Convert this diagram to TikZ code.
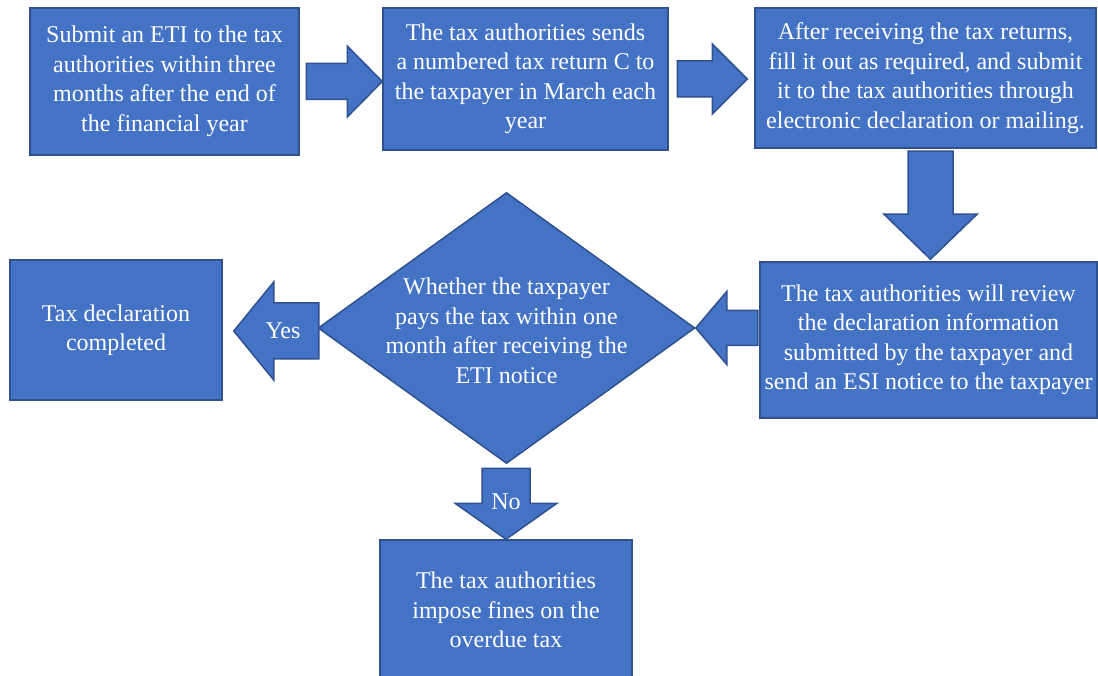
\documentclass[tikz,border=0pt]{standalone}
\usepackage{fontspec}
\setmainfont{Liberation Serif}
\usepackage{xcolor}
\usepackage{tikz}
\usetikzlibrary{shapes.geometric,calc}

\definecolor{boxblue}{HTML}{4472C4}
\definecolor{edgeblue}{HTML}{2F528F}

\tikzset{
  stepbox/.style={draw=edgeblue, fill=boxblue, line width=1.5pt, text=white,
    align=center, inner sep=0pt, font=\fontsize{24}{29.5}\selectfont},
  decision/.style={draw=edgeblue, fill=boxblue, line width=1.5pt, diamond,
    inner sep=0pt},
  arrowfill/.style={draw=edgeblue, fill=boxblue, line width=1.5pt, line join=miter},
  arrowtext/.style={text=white, font=\fontsize{24}{29.5}\selectfont}
}

% tip, angle, length, shaft half, head half, head length
\newcommand{\bigarrow}[6]{%
  \draw[arrowfill, shift={#1}, rotate=#2]
    (0,0) -- (-#6,#5) -- (-#6,#4) -- (-#3,#4) -- (-#3,-#4) -- (-#6,-#4) -- (-#6,-#5) -- cycle;}

\begin{document}
\begin{tikzpicture}[x=1pt, y=-1pt]
\useasboundingbox (0,0) rectangle (1098,676);

\node[stepbox, minimum width=269pt, minimum height=147pt] (submit) at (164.5,81.5)
  {Submit an ETI to the tax\\authorities within three\\months after the end of\\the financial year};
\node[stepbox, minimum width=285pt, minimum height=142pt] (sends) at (525.5,79)
  {The tax authorities sends\\a numbered tax return C to\\the taxpayer in March each\\year};
\node[stepbox, minimum width=341pt, minimum height=140pt] (fill) at (925.5,78)
  {After receiving the tax returns,\\fill it out as required, and submit\\it to the tax authorities through\\electronic declaration or mailing.};
\node[stepbox, minimum width=337pt, minimum height=156pt] (review) at (928.5,340)
  {The tax authorities will review\\the declaration information\\submitted by the taxpayer and\\send an ESI notice to the taxpayer};
\node[decision, minimum width=377pt, minimum height=271pt,
  label={[arrowtext, align=center, yshift=-3pt]center:Whether the taxpayer\\pays the tax within one\\month after receiving the\\ETI notice}] (check) at (506.5,328) {};
\node[stepbox, minimum width=212pt, minimum height=140pt] (done) at (116,330)
  {Tax declaration\\completed};
\node[stepbox, minimum width=252pt, minimum height=140pt] (fines) at (506,610)
  {The tax authorities\\impose fines on the\\overdue tax};

\bigarrow{(submit.east -| sends.west)}{0}{76}{18}{35.5}{35}
\bigarrow{($(sends.east -| fill.west)+(-7,0)$)}{0}{70}{18}{35}{35}
\bigarrow{($(review.north)+(2,-2)$)}{-90}{108}{22.5}{46.5}{45}
\bigarrow{(check.east)}{180}{62}{17.5}{36.5}{31}
\bigarrow{($(done.east)+(11,1)$)}{180}{85}{28}{49}{40}
\bigarrow{(fines.north)}{-90}{71}{24}{51}{36}

\node[arrowtext] (yes) at (283,331) {Yes};
\node[arrowtext] (no) at (506,502) {No};

\end{tikzpicture}
\end{document}
